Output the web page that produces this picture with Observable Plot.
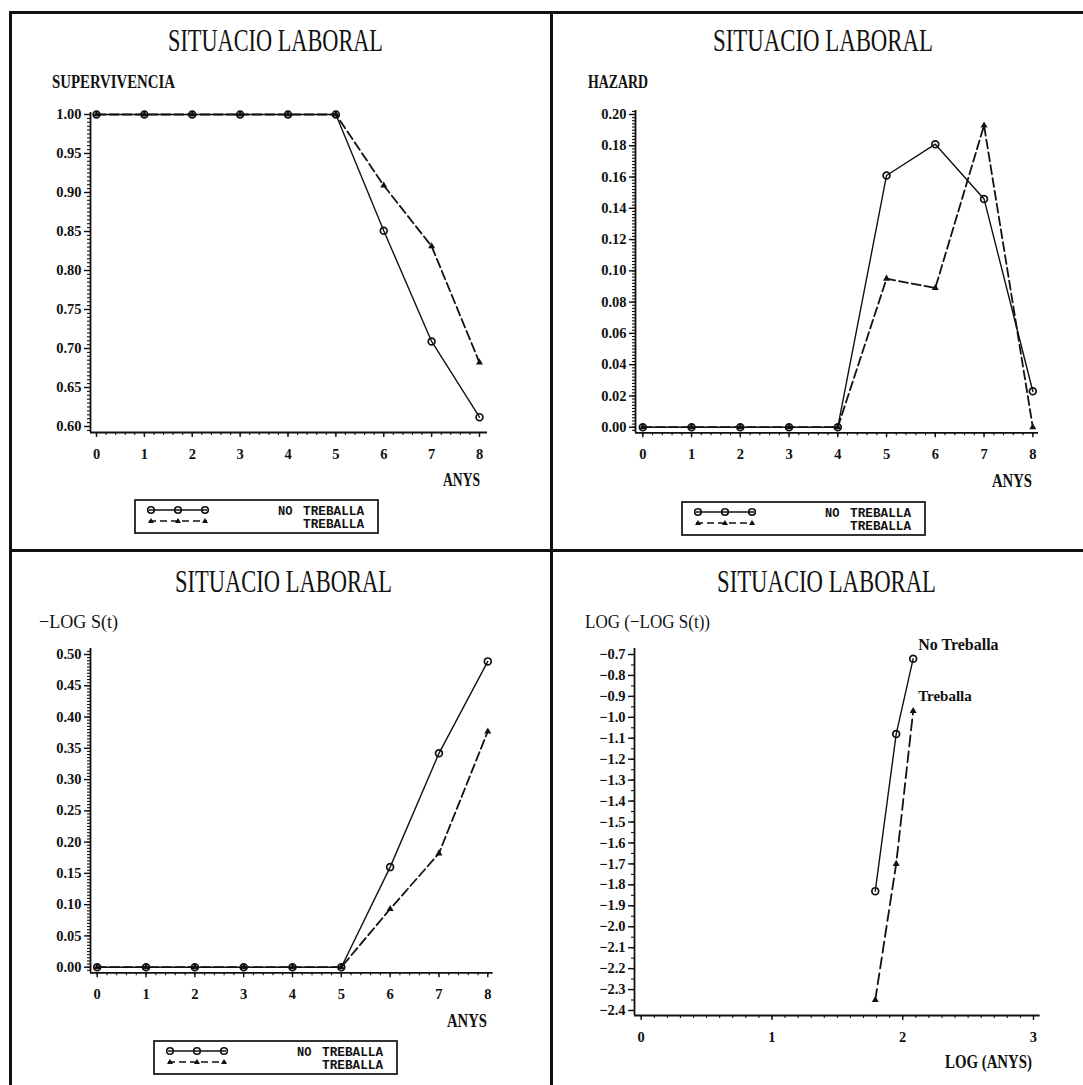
<!DOCTYPE html>
<html><head><meta charset="utf-8">
<script src="https://cdn.jsdelivr.net/npm/d3@7"></script>
<script src="https://cdn.jsdelivr.net/npm/@observablehq/plot@0.6"></script>
<style>
html,body{margin:0;padding:0;background:#fff;}
body{width:1083px;height:1085px;position:relative;overflow:hidden;}
.t{position:absolute;white-space:nowrap;transform-origin:0 0;color:#111;}
.bar{position:absolute;background:#111;}
.pl{position:absolute;}
.pl svg{overflow:visible;}
.pl g[aria-label$="tick label"] text{font-family:"Liberation Serif";font-weight:bold;font-size:14.5px;}
</style>
</head><body>
<script>
// ---------- data ----------
const anys = [0, 1, 2, 3, 4, 5, 6, 7, 8];
const survNoTreballa   = [1, 1, 1, 1, 1, 1, 0.851, 0.709, 0.612];
const survTreballa     = [1, 1, 1, 1, 1, 1, 0.909, 0.831, 0.682];
const hazardNoTreballa = [0, 0, 0, 0, 0, 0.161, 0.181, 0.146, 0.023];
const hazardTreballa   = [0, 0, 0, 0, 0, 0.095, 0.089, 0.193, 0];
const mlogNoTreballa   = [0, 0, 0, 0, 0, 0, 0.160, 0.342, 0.489];
const mlogTreballa     = [0, 0, 0, 0, 0, 0, 0.093, 0.182, 0.377];
const logAnys          = [1.79, 1.95, 2.08];
const llogNoTreballa   = [-1.83, -1.08, -0.72];
const llogTreballa     = [-2.35, -1.70, -0.97];

const ticksAnys = [0, 1, 2, 3, 4, 5, 6, 7, 8];
const ticksLogAnys = [0, 1, 2, 3];
const ticksSurv = [0.60, 0.65, 0.70, 0.75, 0.80, 0.85, 0.90, 0.95, 1.00];
const ticksHazard = [0, 0.02, 0.04, 0.06, 0.08, 0.10, 0.12, 0.14, 0.16, 0.18, 0.20];
const ticksMlog = [0, 0.05, 0.10, 0.15, 0.20, 0.25, 0.30, 0.35, 0.40, 0.45, 0.50];
const ticksLlog = [-2.4, -2.3, -2.2, -2.1, -2.0, -1.9, -1.8, -1.7, -1.6, -1.5, -1.4, -1.3, -1.2, -1.1, -1.0, -0.9, -0.8, -0.7];

const title = "SITUACIO LABORAL";
const seriesNames = ["NO TREBALLA", "TREBALLA"];
const annotNames = ["No Treballa", "Treballa"];

// ---------- helpers ----------
const ctx = document.createElement("canvas").getContext("2d");
function addText(str, x, baseline, width, size, weight = "normal", family = "Liberation Serif") {
  ctx.font = `${weight} ${size}px "${family}"`;
  const natural = ctx.measureText(str).width;
  const sx = width / natural;
  const d = document.createElement("div");
  d.className = "t";
  d.textContent = str;
  d.style.font = `${weight} ${size}px "${family}"`;
  d.style.lineHeight = size + "px";
  d.style.left = x + "px";
  d.style.top = (baseline - 0.8375 * size) + "px";
  d.style.transform = `scaleX(${sx})`;
  document.body.appendChild(d);
}
function bar(l, t, w, h) {
  const d = document.createElement("div");
  d.className = "bar";
  Object.assign(d.style, {left: l + "px", top: t + "px", width: w + "px", height: h + "px"});
  document.body.appendChild(d);
}
function range(a, b, s) { return d3.range(Math.round(a / s), Math.round(b / s) + 1).map(k => +(k * s).toFixed(6)); }

const tickFont = {fontFamily: "Liberation Serif", fontWeight: "bold", fontSize: 14.5};

function panel(cfg) {
  const {yAxisX, axisRight, axisTop, xAxisY, xCal, yCal} = cfg;
  const kx = (xCal[3] - xCal[1]) / (xCal[2] - xCal[0]);
  const ky = (yCal[3] - yCal[1]) / (yCal[2] - yCal[0]);
  const xDom = [xCal[0] + (yAxisX - xCal[1]) / kx, xCal[0] + (axisRight - xCal[1]) / kx];
  const yDom = [yCal[0] + (xAxisY - yCal[1]) / ky, yCal[0] + (axisTop - yCal[1]) / ky];
  const left = yAxisX - 75, top = axisTop - 15;
  const width = axisRight + 20 - left, height = xAxisY + 40 - top;
  const xMinor = range(xDom[0], xDom[1], cfg.xMinorStep).filter(v => v >= xDom[0] && v <= xDom[1]);
  const yMinor = range(Math.min(...yDom), Math.max(...yDom), cfg.yMinorStep).filter(v => v >= yDom[0] && v <= yDom[1]);
  const data = cfg.data;
  const marks = [
    Plot.axisY(yMinor, {tickSize: 3, tickFormat: () => "", label: null, strokeWidth: 1.1}),
    Plot.axisY(cfg.yTicks, {tickSize: 6, tickPadding: 3, tickFormat: d3.format(cfg.yFmt), label: null, strokeWidth: 1.4, ...tickFont}),
    Plot.axisX(xMinor, {tickSize: 3, tickFormat: () => "", label: null, strokeWidth: 1.1}),
    Plot.axisX(cfg.xTicks, {tickSize: 5, tickPadding: 11, tickFormat: d3.format("d"), label: null, strokeWidth: 1.4, ...tickFont}),
    Plot.ruleX([xDom[0]], {stroke: "#111", strokeWidth: 1.8}),
    Plot.ruleY([yDom[0]], {stroke: "#111", strokeWidth: 1.8}),
    Plot.line(data, {x: "x", y: "no", stroke: "#111", strokeWidth: 1.4}),
    Plot.line(data, {x: "x", y: "tr", stroke: "#111", strokeWidth: 1.8, strokeDasharray: cfg.dash || "9,4"}),
    Plot.dot(data, {x: "x", y: "no", r: 3.4, stroke: "#111", strokeWidth: 1.7, fill: "none"}),
    Plot.dot(data, {x: "x", y: "tr", r: 2.6, symbol: "triangle", fill: "#111", stroke: "none"})
  ];
  if (cfg.annotate) {
    const last = data[data.length - 1];
    marks.push(Plot.text([last], {x: "x", y: "no", text: () => annotNames[0], dx: 5, dy: -9, textAnchor: "start", lineAnchor: "bottom", fontFamily: "Liberation Serif", fontWeight: "bold", fontSize: 16, fill: "#111"}));
    marks.push(Plot.text([last], {x: "x", y: "tr", text: () => annotNames[1], dx: 5, dy: -10, textAnchor: "start", lineAnchor: "bottom", fontFamily: "Liberation Serif", fontWeight: "bold", fontSize: 15, fill: "#111"}));
  }
  const chart = Plot.plot({
    width, height,
    marginLeft: yAxisX - left, marginRight: left + width - axisRight,
    marginTop: axisTop - top, marginBottom: top + height - xAxisY,
    x: {domain: xDom},
    y: {domain: yDom},
    style: {background: "transparent", color: "#111", fontFamily: "Liberation Serif", fontWeight: "bold"},
    marks
  });
  const wrap = document.createElement("div");
  wrap.className = "pl";
  wrap.style.left = left + "px";
  wrap.style.top = top + "px";
  wrap.appendChild(chart);
  document.body.appendChild(wrap);
}

function legend(x, y) {
  const ns = "http://www.w3.org/2000/svg";
  const w = 243, h = 33;
  const svg = document.createElementNS(ns, "svg");
  svg.setAttribute("width", w + 4); svg.setAttribute("height", h + 4);
  svg.style.position = "absolute";
  svg.style.left = (x - 2) + "px"; svg.style.top = (y - 2) + "px";
  const el = (tag, attrs) => { const e = document.createElementNS(ns, tag); for (const k in attrs) e.setAttribute(k, attrs[k]); svg.appendChild(e); return e; };
  el("rect", {x: 2, y: 2, width: w, height: h, fill: "none", stroke: "#111", "stroke-width": 1.7});
  const x0 = 2 + 14, x1 = 2 + 72, y1 = 2 + 10, y2 = 2 + 21;
  el("line", {x1: x0, x2: x1, y1, y2: y1, stroke: "#111", "stroke-width": 1.4});
  el("line", {x1: x0, x2: x1, y1: y2, y2, stroke: "#111", "stroke-width": 1.6, "stroke-dasharray": "7,4"});
  for (const cx of [x0 + 2, (x0 + x1) / 2, x1 - 2]) {
    el("circle", {cx, cy: y1, r: 3.3, fill: "none", stroke: "#111", "stroke-width": 1.6});
    el("path", {d: `M${cx},${y2 - 3}L${cx + 3},${y2 + 2}L${cx - 3},${y2 + 2}Z`, fill: "#111"});
  }
  const font = {"font-family": "Liberation Mono", "font-weight": "bold", "font-size": 12, fill: "#111"};
  const t0 = el("text", {x: 2 + 143, y: 2 + 15, ...font}); t0.textContent = seriesNames[0].split(" ")[0];
  const t1 = el("text", {x: 2 + 168, y: 2 + 15, textLength: 61, lengthAdjust: "spacingAndGlyphs", ...font}); t1.textContent = seriesNames[0].split(" ")[1];
  const t2 = el("text", {x: 2 + 168, y: 2 + 28, textLength: 61, lengthAdjust: "spacingAndGlyphs", ...font}); t2.textContent = seriesNames[1];
  document.body.appendChild(svg);
}

const table = (xs, a, b) => xs.map((x, i) => ({x, no: a[i], tr: b[i]}));

// ---------- frame lines ----------
bar(9, 11, 1083 - 9, 3);
bar(9, 11, 3, 1085 - 11);
bar(550, 11, 3, 1085 - 11);
bar(9, 549, 1083 - 9, 3);

// ---------- panel 1 : survival ----------
panel({yAxisX: 90, axisRight: 487, axisTop: 112, xAxisY: 432,
  xCal: [0, 96, 8, 479], yCal: [1.0, 114, 0.6, 426],
  xTicks: ticksAnys, xMinorStep: 0.2, yTicks: ticksSurv, yMinorStep: 0.005, yFmt: ".2f",
  data: table(anys, survNoTreballa, survTreballa)});
addText(title, 168, 50.7, 215, 32);
addText("SUPERVIVENCIA", 52, 88, 123, 19, "bold");
addText("ANYS", 443, 486, 37, 18, "bold");
legend(135, 500);

// ---------- panel 2 : hazard ----------
panel({yAxisX: 635, axisRight: 1038, axisTop: 110, xAxisY: 432.3,
  xCal: [0, 642.3, 8, 1032.3], yCal: [0.2, 114, 0, 426.7],
  xTicks: ticksAnys, xMinorStep: 0.2, yTicks: ticksHazard, yMinorStep: 0.002, yFmt: ".2f",
  data: table(anys, hazardNoTreballa, hazardTreballa)});
addText(title, 713, 50.7, 220, 32);
addText("HAZARD", 588, 88.3, 60, 19, "bold");
addText("ANYS", 992, 486.7, 40, 18, "bold");
legend(682, 502);

// ---------- panel 3 : -log S(t) ----------
panel({yAxisX: 90, axisRight: 492.7, axisTop: 648, xAxisY: 972.3,
  xCal: [0, 96.7, 8, 487.3], yCal: [0.5, 654, 0, 966.7],
  xTicks: ticksAnys, xMinorStep: 0.2, yTicks: ticksMlog, yMinorStep: 0.005, yFmt: ".2f",
  data: table(anys, mlogNoTreballa, mlogTreballa)});
addText(title, 175, 591.7, 217, 32);
addText("\u2212LOG S(t)", 39, 628.3, 79, 19);
addText("ANYS", 447, 1026.7, 40, 18, "bold");
legend(154, 1041);

// ---------- panel 4 : log(-log S(t)) ----------
panel({yAxisX: 634.3, axisRight: 1040, axisTop: 648, xAxisY: 1015,
  xCal: [0, 641, 3, 1033.3], yCal: [-0.7, 654, -2.4, 1010],
  xTicks: ticksLogAnys, xMinorStep: 0.1, yTicks: ticksLlog, yMinorStep: 0.05, yFmt: ".1f",
  dash: "11,5", annotate: true,
  data: table(logAnys, llogNoTreballa, llogTreballa)});
addText(title, 717, 591.7, 219, 32);
addText("LOG (\u2212LOG S(t))", 585, 628.3, 125, 19);
addText("LOG (ANYS)", 945, 1068, 87, 18, "bold");
</script>
</body></html>
